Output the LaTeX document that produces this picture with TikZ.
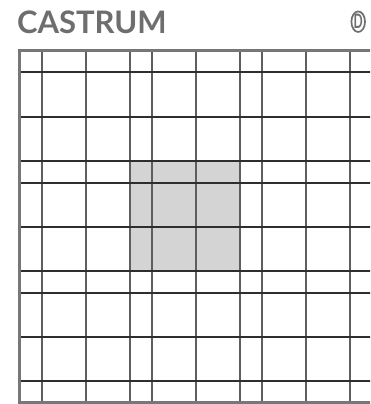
\documentclass[tikz,border=0pt]{standalone}
\usepackage{fontspec}
\setmainfont{Lato}
\usepackage{xcolor}
\usepackage{tikz}
\usetikzlibrary{shapes.geometric}

\definecolor{gridv}{HTML}{5E5E5E}
\definecolor{gridh}{HTML}{2E2E2E}
\definecolor{frame}{HTML}{777777}
\definecolor{court}{HTML}{D4D4D4}
\definecolor{label}{HTML}{6E6E6E}

\begin{document}
\begin{tikzpicture}[
    x=1pt, y=-1pt,
    vline/.style={draw=gridv, line width=2.1pt},
    hline/.style={draw=gridh, line width=2pt},
    border/.style={draw=frame, line width=3.6pt},
    heading/.style={anchor=base west, inner sep=0pt, text=label, font=\fontsize{31}{31}\selectfont\bfseries},
    badge/.style={ellipse, draw=label, line width=1.7pt, minimum width=13.6pt, minimum height=20.6pt, inner sep=0pt, text=label, font=\fontsize{20}{20}\selectfont\bfseries}
]
\useasboundingbox (0,0) rectangle (370,404);
\clip (0,0) rectangle (370,404);
\def\u{22.05}
\def\xo{19.5}
\def\yo{50.4}

\node[heading] (name) at (16.8, 33.3) {CASTRUM};
\node[badge] (sign) at (358.2, 21.7) {\scalebox{0.6}[1]{D}};

% central block
\fill[court] (\xo+5*\u, \yo+5*\u) rectangle (\xo+10*\u, \yo+10*\u);

% streets
\foreach \k in {1,3,5,6,8,10,11,13,15} {
    \draw[vline] (\xo+\k*\u, \yo) -- (\xo+\k*\u, \yo+16*\u);
}
\foreach \k in {1,3,5,6,8,10,11,13,15} {
    \draw[hline] (\xo, \yo+\k*\u) -- (380, \yo+\k*\u);
}

% walls
\draw[border] (380, \yo) -- (\xo, \yo) -- (\xo, \yo+16*\u) -- (380, \yo+16*\u);
\end{tikzpicture}
\end{document}
